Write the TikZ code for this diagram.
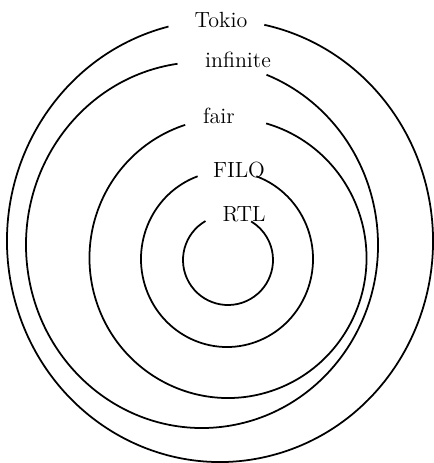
\documentclass[tikz,border=0pt]{standalone}
\usepackage{amsmath,amssymb}
\usepackage{xcolor}
\usepackage{tikz}
\usetikzlibrary{calc}

\begin{document}
\begin{tikzpicture}[
    x=0.02cm, y=0.02cm,
    line width=1pt,
    every node/.style={font=\rmfamily\fontsize{12.5}{14}\selectfont, inner sep=0pt}
  ]
    \useasboundingbox (0,0) rectangle (433,-463);
    % centres of the rings
    \coordinate (cTokio) at (220,-241);
    \coordinate (cInf) at (202,-245);
    \coordinate (cFair) at (228,-258);
    \coordinate (cFILO) at (227,-259);
    \coordinate (cRTL) at (228,-260);
    % labels
    \node (Tokio) at (221,-20) {Tokio};
    \node (Inf) at (238,-60) {infinite};
    \node (Fair) at (219,-116) {fair};
    \node (FILO) at (239,-170) {FILO};
    \node (RTL) at (244,-214) {RTL};
    % rings, open where the label sits
    \draw (cTokio) ++(104:213 and 221) arc[start angle=104, end angle=438, x radius=213, y radius=221];
    \draw (cInf) ++(98:176 and 183) arc[start angle=98, end angle=428.5, x radius=176, y radius=183];
    \draw (cFair) ++(108:138.5 and 140) arc[start angle=108, end angle=434, x radius=138.5, y radius=140];
    \draw (cFILO) ++(110:86 and 88) arc[start angle=110, end angle=430, x radius=86, y radius=88];
    \draw (cRTL) ++(120:45 and 45) arc[start angle=120, end angle=419, x radius=45, y radius=45];
  \end{tikzpicture}
\end{document}
